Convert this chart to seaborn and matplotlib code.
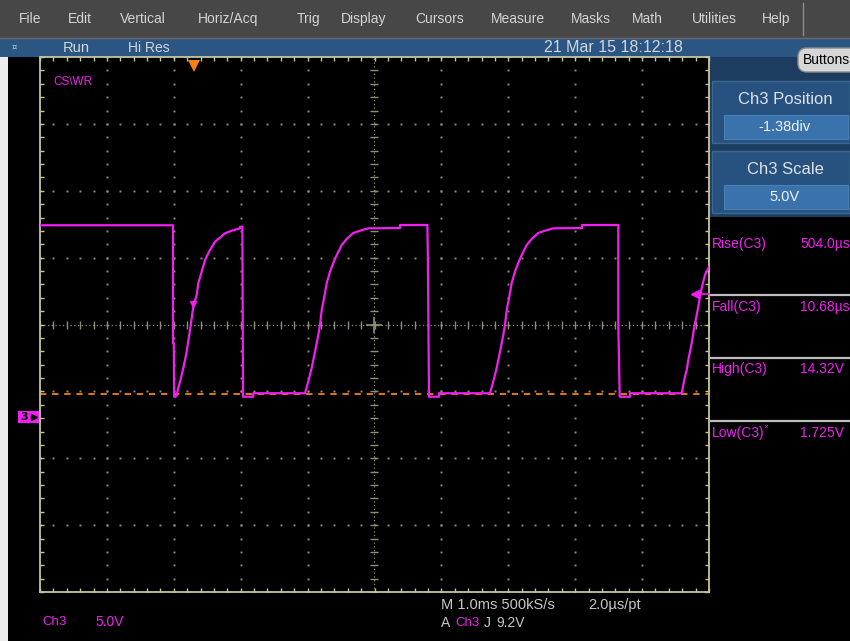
import matplotlib
matplotlib.use("Agg")
import matplotlib.pyplot as plt
import matplotlib.transforms as mtransforms
from matplotlib.patches import Rectangle, FancyBboxPatch
import numpy as np
import pandas as pd
import seaborn as sns

# ---- instrument settings -------------------------------------------------
CH3_POSITION = -1.38    # div
CH3_SCALE = 5.0         # V/div
TIME_SCALE = 1.0        # ms/div
TRIGGER_LEVEL = 9.2     # V
TRIGGER_TIME = -2.70    # ms
LOW_LEVEL = 1.725       # V
CURSOR_MARK_T = -2.717  # ms
CURSOR_MARK_V = 8.43    # V

menu_labels = ["File", "Edit", "Vertical", "Horiz/Acq", "Trig", "Display",
               "Cursors", "Measure", "Masks", "Math", "Utilities", "Help"]

measure_names = ["Rise(C3)", "Fall(C3)", "High(C3)", "Low(C3)"]
measure_values = ["504.0\u00b5s", "10.68\u00b5s", "14.32V", "1.725V"]

# ---- captured Ch3 trace (time in ms, level in V) --------------------------
trace_t = [
    -5.000, -3.012, -3.012, -3.000, -2.995, -2.972, -2.957, -2.933, -2.907,
    -2.858, -2.807, -2.758, -2.732, -2.709, -2.658, -2.634, -2.583, -2.534,
    -2.459, -2.384, -2.309, -2.235, -2.135, -2.010, -2.010, -1.975, -1.965,
    -1.812, -1.812, -1.039,
    -0.990, -0.939, -0.889, -0.840, -0.815, -0.789, -0.750, -0.714, -0.665,
    -0.616, -0.565, -0.490, -0.416, -0.317, -0.217, -0.093, 0.381, 0.381,
    0.790, 0.797, 0.815, 0.964, 0.964, 1.726,
    1.775, 1.826, 1.876, 1.925, 1.950, 1.976, 2.015, 2.051, 2.100,
    2.149, 2.200, 2.275, 2.349, 2.448, 2.548, 2.672, 3.102, 3.102,
    3.644, 3.644, 3.665, 3.819, 3.819, 4.592,
    4.616, 4.641, 4.667, 4.691, 4.716, 4.741, 4.765, 4.791, 4.816,
    4.840, 4.865, 4.890, 4.915, 4.940, 4.966, 5.000,
]
trace_v = [
    14.32, 14.32, 5.52, 5.52, 1.50, 1.50, 1.63, 2.15, 2.62,
    3.63, 4.87, 6.49, 7.36, 8.23, 9.10, 9.98, 10.85, 11.72,
    12.47, 13.09, 13.39, 13.72, 13.91, 14.09, 14.21, 14.21, 1.50,
    1.50, 1.76, 1.76,
    2.62, 3.65, 4.87, 6.11, 6.86, 7.98, 8.98, 10.00, 10.85,
    11.50, 12.09, 12.84, 13.29, 13.74, 13.91, 14.09, 14.11, 14.34,
    14.34, 12.24, 1.50, 1.50, 1.76, 1.76,
    2.62, 3.65, 4.87, 6.11, 6.86, 7.98, 8.98, 10.00, 10.85,
    11.50, 12.09, 12.84, 13.29, 13.74, 13.91, 14.09, 14.11, 14.34,
    14.34, 7.01, 1.50, 1.50, 1.76, 1.76,
    2.38, 3.00, 3.50, 4.25, 4.87, 5.49, 6.24, 6.99, 7.61,
    8.23, 8.98, 9.61, 10.10, 10.60, 10.85, 11.20,
]

# ---- colours ---------------------------------------------------------------
MAGENTA = "#f21ef2"
ORANGE = "#f5820f"
GRID = "#8e8e76"
BORDER = "#c6c69e"
UI_TEXT = "#d2d6da"
SCOPE_TEXT = "#c8c8c8"

NARROW = ["Liberation Sans Narrow", "Liberation Sans", "DejaVu Sans"]
PLAIN = ["Liberation Sans", "DejaVu Sans"]

W, H = 850, 641
fig = plt.figure(figsize=(W / 100, H / 100), dpi=100, facecolor="black")

# full-window layer in screen pixels for menus and side panels
ui = fig.add_axes([0, 0, 1, 1])
ui.set_xlim(0, W)
ui.set_ylim(H, 0)
ui.axis("off")
ui.set_zorder(0)

ui.add_patch(Rectangle((0, 0), W, 38, color="#474747", lw=0))
ui.plot([0, W], [37.5, 37.5], color="#6a6a6a", lw=1)
ui.add_patch(Rectangle((0, 38), W, 19, color="#2b5683", lw=0))
ui.add_patch(Rectangle((0, 57), 8, H - 57, color="#ececec", lw=0))

menu_x = [30, 80, 143, 228, 309, 364, 440, 518, 591, 647, 714, 776]
for lbl, x in zip(menu_labels, menu_x):
    ui.text(x, 19, lbl, color="#d4d4d4", fontsize=10, family=NARROW,
            ha="center", va="center")
ui.plot([803, 803], [3, 35], color="#8c8c8c", lw=1)

ui.text(14, 47, "\u00a4", color="#c0c8d0", fontsize=6, ha="center", va="center")
ui.text(63, 47.5, "Run", color=UI_TEXT, fontsize=10.5, family=NARROW, va="center")
ui.text(128, 47.5, "Hi Res", color=UI_TEXT, fontsize=10, family=NARROW, va="center")
ui.text(683, 47.5, "21 Mar 15 18:12:18", color=UI_TEXT, fontsize=11.5,
        family=NARROW, ha="right", va="center")

# right-hand control panel
ui.add_patch(Rectangle((709, 57), W - 709, 160, color="#1d3d60", lw=0))
for top, title, value in [(81, "Ch3 Position", "-1.38div"),
                          (151, "Ch3 Scale", "5.0V")]:
    ui.add_patch(Rectangle((712, top), W - 712, 62, facecolor="#27527f",
                           edgecolor="#3b6790", lw=1))
    ui.add_patch(Rectangle((724, top + 34), 124, 24, facecolor="#3a72ac",
                           edgecolor="#4a80b8", lw=0.8))
    ui.text(785, top + 18, title, color="#dde2e8", fontsize=12,
            family=PLAIN, ha="center", va="center")
    ui.text(785, top + 46, value, color="#eef2f6", fontsize=10.5,
            family=PLAIN, ha="center", va="center")

ui.add_patch(FancyBboxPatch((798, 48), 62, 24,
                            boxstyle="round,pad=0,rounding_size=9",
                            facecolor="#d6d6d6", edgecolor="#8c8c8c", lw=1))
ui.text(803, 60, "Buttons", color="black", fontsize=10, family=PLAIN,
        va="center")

# measurement readouts
row_y = [244, 307, 369, 433]
for name, val, y in zip(measure_names, measure_values, row_y):
    ui.text(712, y, name, color=MAGENTA, fontsize=10, family=NARROW, va="center")
    ui.text(800, y, val, color=MAGENTA, fontsize=10, family=NARROW, va="center")
ui.text(763, 427, "\u00d7", color=MAGENTA, fontsize=6, family=PLAIN, va="center")
for y in [295, 358, 421]:
    ui.plot([711, W], [y, y], color="#bdbdbd", lw=1.6)

# channel ground marker
ui.add_patch(Rectangle((18, 411), 21, 12, color=MAGENTA, lw=0))
ui.text(24, 417, "3", color="black", fontsize=8, fontweight="bold",
        ha="center", va="center")
ui.plot([34], [417], marker=">", ms=4, color="black", mec="black")

# bottom status text
ui.text(42, 622, "Ch3", color=MAGENTA, fontsize=9.5, family=NARROW, va="center")
ui.text(95, 622, "5.0V", color=MAGENTA, fontsize=10, family=NARROW, va="center")
ui.text(441, 605, "M 1.0ms 500kS/s", color=SCOPE_TEXT, fontsize=10.5,
        family=NARROW, va="center")
ui.text(588, 605, "2.0\u00b5s/pt", color=SCOPE_TEXT, fontsize=10.5,
        family=NARROW, va="center")
ui.text(441, 623, "A", color=SCOPE_TEXT, fontsize=10, family=NARROW, va="center")
ui.text(455, 623, "Ch3", color=MAGENTA, fontsize=9.5, family=NARROW, va="center")
ui.text(484, 623, "J", color=SCOPE_TEXT, fontsize=10, family=NARROW, va="center")
ui.text(496, 623, "9.2V", color=SCOPE_TEXT, fontsize=10, family=NARROW,
        va="center")

# ---- graticule -------------------------------------------------------------
ax = fig.add_axes([40 / W, (H - 592) / H, 669 / W, 535 / H])
ax.set_zorder(1)
ax.set_facecolor("black")


def div_to_volts(d):
    return (np.asarray(d) - CH3_POSITION) * CH3_SCALE


v_center = float(div_to_volts(0))
ax.set_xlim(-5 * TIME_SCALE, 5 * TIME_SCALE)
ax.set_ylim(div_to_volts(-4), div_to_volts(4))

fine_x = np.arange(-5, 5.001, 0.2) * TIME_SCALE
fine_y = div_to_volts(np.arange(-4, 4.001, 0.2))

for xd in [-4, -3, -2, -1, 1, 2, 3, 4]:
    ax.plot(np.full(fine_y.size, xd * TIME_SCALE), fine_y, ls="none",
            marker="s", ms=1.4, mew=0, color=GRID, zorder=1)
for yd in [-3, -2, -1, 1, 2, 3]:
    ax.plot(fine_x, np.full(fine_x.size, float(div_to_volts(yd))), ls="none",
            marker="s", ms=1.4, mew=0, color=GRID, zorder=1)

ax.axvline(0, color=GRID, lw=0.9, ls=(0, (1, 2)), zorder=1)
ax.axhline(v_center, color=GRID, lw=0.9, ls=(0, (1, 2)), zorder=1)
ax.plot(fine_x, np.full(fine_x.size, v_center), ls="none", marker="|",
        ms=6, mew=1, color=GRID, zorder=1)
ax.plot(np.zeros(fine_y.size), fine_y, ls="none", marker="_",
        ms=6, mew=1, color=GRID, zorder=1)
ax.plot([0], [v_center], marker="+", ms=12, mew=1.2, color=GRID, zorder=1)

for sp in ax.spines.values():
    sp.set_color(BORDER)
    sp.set_linewidth(1.3)
ax.set_xticks(fine_x)
ax.set_yticks(fine_y)
ax.tick_params(direction="in", length=3, width=1, color=BORDER,
               labelbottom=False, labelleft=False, top=True, right=True)

# low reference level
ax.axhline(LOW_LEVEL, color=ORANGE, lw=1.3, ls=(0, (3.5, 3.2)), zorder=2)

# waveform
trace = pd.DataFrame({"t": trace_t, "v": trace_v})
sns.lineplot(data=trace, x="t", y="v", sort=False, estimator=None,
             color=MAGENTA, lw=1.6, ax=ax, zorder=3)
ax.set_xlabel("")
ax.set_ylabel("")

# measurement marks on the trace
ax.plot([CURSOR_MARK_T], [CURSOR_MARK_V], marker="v", ms=5, color=MAGENTA,
        zorder=4)
ax.plot([4.79 * TIME_SCALE, 5.0 * TIME_SCALE], [TRIGGER_LEVEL, TRIGGER_LEVEL],
        color=MAGENTA, lw=1.2, zorder=4, clip_on=False)
ax.plot([4.79 * TIME_SCALE], [TRIGGER_LEVEL], marker="<", ms=6,
        color=MAGENTA, zorder=4)

# trigger position marker
top_blend = mtransforms.blended_transform_factory(ax.transData, ax.transAxes)
ax.plot([TRIGGER_TIME], [0.984], marker="v", ms=8, color=ORANGE, mew=0,
        transform=top_blend, clip_on=False, zorder=5)

ax.text(0.02, 0.953, "CS\\WR", transform=ax.transAxes, color=MAGENTA,
        fontsize=8.5, family=NARROW, va="center")

fig.savefig("out.png", dpi=100, facecolor="black")
